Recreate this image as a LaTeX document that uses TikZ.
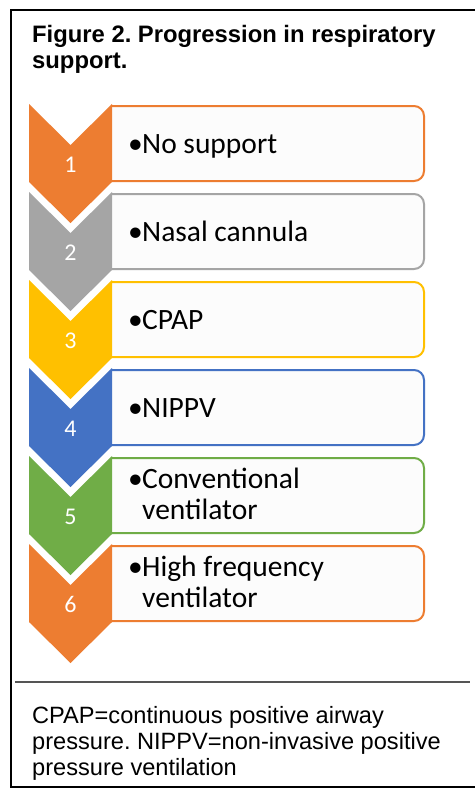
\documentclass[tikz,border=0pt]{standalone}
\usepackage{fontspec}
\setmainfont{Liberation Sans}
\newfontfamily\bodyfont{Carlito}
\frenchspacing
\definecolor{accOrange}{HTML}{ED7D31}
\definecolor{accGray}{HTML}{A5A5A5}
\definecolor{accGold}{HTML}{FFC000}
\definecolor{accBlue}{HTML}{4472C4}
\definecolor{accGreen}{HTML}{70AD47}
\definecolor{boxfill}{RGB}{252,252,252}
\definecolor{rulegray}{RGB}{85,85,85}
\tikzset{
  itembox/.style={line width=2pt, fill=boxfill, rounded corners=10pt},
  numlabel/.style={text=white, inner sep=0pt, font=\bodyfont\fontsize{24}{26}\selectfont},
  itemtext/.style={inner sep=0pt, anchor=base west, font=\bodyfont\fontsize{29.5}{31}\selectfont},
  headtext/.style={inner sep=0pt, anchor=base west, font=\bfseries\fontsize{23.8}{26}\selectfont},
  foottext/.style={inner sep=0pt, anchor=base west, font=\fontsize{23.6}{26}\selectfont}
}
\begin{document}
\begin{tikzpicture}[x=1pt,y=-1pt]
\useasboundingbox (0,0) rectangle (474,792);
\fill[white] (0,0) rectangle (474,792);

% outer frame and rule above the footnote
\draw[line width=2pt] (11,10) rectangle (495,787);
\draw[line width=2pt, rulegray] (15,682) coordinate (ruleL) -- (470,682) coordinate (ruleR);

% heading
\node[headtext] (head1) at (32,43) {Figure 2. Progression in respiratory};
\node[headtext] (head2) at (32,69) {support.};

% steps: boxes (their left ends tucked under the chevrons) first, chevrons on top
\foreach \T/\c/\n in {104/accOrange/1, 192/accGray/2, 280/accGold/3,
                      368/accBlue/4, 456/accGreen/5, 544/accOrange/6} {
  \begin{scope}
    \clip (111,\T) rectangle (430,\T+80);
    \filldraw[itembox, draw=\c] (90,\T+2) coordinate (box\n) rectangle (424,\T+77);
  \end{scope}
  \fill[\c] (29,\T) -- (70.5,\T+41) -- (112,\T) -- (112,\T+78)
            -- (70.5,\T+119) -- (29,\T+78) -- cycle;
  \node[numlabel] (num\n) at (70.5,\T+60.5) {\n};
}

% bullets and item texts
\node[itemtext] (dot1) at (128,153) {•};
\node[itemtext] (txt1) at (142,153) {No support};
\node[itemtext] (dot2) at (128,241) {•};
\node[itemtext] (txt2) at (142,241) {Nasal cannula};
\node[itemtext] (dot3) at (128,329) {•};
\node[itemtext] (txt3) at (142,329) {CPAP};
\node[itemtext] (dot4) at (128,417) {•};
\node[itemtext] (txt4) at (142,417) {NIPPV};

\node[itemtext] (dot5) at (128,488) {•};
\node[itemtext] (txt5a) at (142,488) {Conventional};
\node[itemtext] (txt5b) at (142,519) {ventilator};

\node[itemtext] (dot6) at (128,576) {•};
\node[itemtext] (txt6a) at (142,576) {High frequency};
\node[itemtext] (txt6b) at (142,607) {ventilator};

% footnote
\node[foottext] (foot1) at (32,723) {CPAP=continuous positive airway};
\node[foottext] (foot2) at (32,749) {pressure. NIPPV=non-invasive positive};
\node[foottext] (foot3) at (32,775) {pressure ventilation};
\end{tikzpicture}
\end{document}
